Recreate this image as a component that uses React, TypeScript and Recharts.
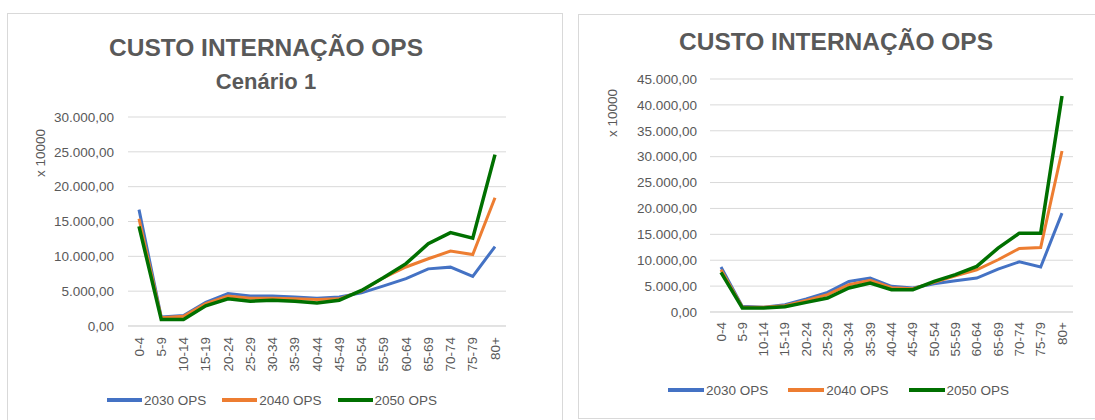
import { LineChart, Line, XAxis, YAxis, CartesianGrid, Legend } from "recharts";

const ageGroups = [
  "0-4", "5-9", "10-14", "15-19", "20-24", "25-29", "30-34", "35-39", "40-44",
  "45-49", "50-54", "55-59", "60-64", "65-69", "70-74", "75-79", "80+"
];

// Cenário 1 (left)
const left2030 = [16700, 1300, 1500, 3400, 4650, 4300, 4300, 4150, 4000, 4150, 4750, 5750, 6800, 8200, 8450, 7130, 11400];
const left2040 = [15400, 1200, 1400, 3200, 4300, 4000, 4000, 3900, 3800, 3900, 5000, 6950, 8470, 9650, 10750, 10250, 18400];
const left2050 = [14300, 950, 950, 2900, 3900, 3550, 3700, 3550, 3300, 3700, 5100, 6950, 8950, 11800, 13400, 12600, 24600];

// right chart
const right2030 = [8680, 1090, 900, 1410, 2500, 3790, 5910, 6560, 4950, 4630, 5460, 6040, 6560, 8290, 9700, 8680, 19090];
const right2040 = [8160, 960, 900, 1220, 2250, 3340, 5270, 6100, 4700, 4500, 5720, 7000, 8160, 10090, 12280, 12470, 31100];
const right2050 = [7650, 770, 770, 1030, 1860, 2700, 4630, 5590, 4300, 4300, 5910, 7200, 8800, 12340, 15230, 15230, 41700];

const leftTicks = [0, 5000, 10000, 15000, 20000, 25000, 30000];
const rightTicks = [0, 5000, 10000, 15000, 20000, 25000, 30000, 35000, 40000, 45000];

const seriesNames = ["2030 OPS", "2040 OPS", "2050 OPS"];
const colors = ["#4472C4", "#ED7D31", "#007000"];

const font = "'Liberation Sans', Arial, sans-serif";
const textGray = "#595959";
const gridGray = "#d9d9d9";

const leftData = ageGroups.map((g, i) => ({ age: g, s2030: left2030[i], s2040: left2040[i], s2050: left2050[i] }));
const rightData = ageGroups.map((g, i) => ({ age: g, s2030: right2030[i], s2040: right2040[i], s2050: right2050[i] }));

function formatBR(v: number) {
  const s = Math.round(v).toString().replace(/\B(?=(\d{3})+(?!\d))/g, ".");
  return s + ",00";
}

function AgeTick(props: any) {
  const { x, y, payload } = props;
  return (
    <text
      x={x}
      y={y}
      transform={`rotate(-90, ${x}, ${y})`}
      textAnchor="end"
      dominantBaseline="central"
      fill={textGray}
      fontSize={13.5}
      fontFamily={font}
    >
      {payload.value}
    </text>
  );
}

function YTitle(props: any) {
  const { cx, cy } = props;
  return (
    <text
      x={cx}
      y={cy}
      transform={`rotate(-90, ${cx}, ${cy})`}
      textAnchor="middle"
      dominantBaseline="central"
      fill={textGray}
      fontSize={13.5}
      fontFamily={font}
    >
      x 10000
    </text>
  );
}

function LegendRow({ padLeft, lineW, gap }: { padLeft: number; lineW: number; gap: number }) {
  return (
    <div style={{ display: "flex", alignItems: "center", height: 30, paddingLeft: padLeft, fontFamily: font, fontSize: 13.5, color: textGray }}>
      {seriesNames.map((n, i) => (
        <div key={n} style={{ display: "flex", alignItems: "center", marginRight: gap }}>
          <svg width={lineW} height={6} style={{ marginRight: 2 }}>
            <line x1={0} y1={3} x2={lineW} y2={3} stroke={colors[i]} strokeWidth={4} />
          </svg>
          <span>{n}</span>
        </div>
      ))}
    </div>
  );
}

function OpsChart(props: {
  data: any[];
  width: number;
  margin: any;
  yWidth: number;
  tickMargin: number;
  xHeight: number;
  xTickMargin: number;
  ticks: number[];
  titleX: number;
  titleY: number;
  legendBottom: number;
  legendPad: number;
  legendLine: number;
  legendGap: number;
}) {
  const p = props;
  return (
    <LineChart width={p.width} height={420} data={p.data} margin={p.margin}>
      <CartesianGrid vertical={false} stroke={gridGray} strokeWidth={1} />
      <XAxis
        dataKey="age"
        interval={0}
        padding={{ left: 11, right: 11 }}
        height={p.xHeight}
        tickLine={false}
        tickMargin={p.xTickMargin}
        axisLine={{ stroke: gridGray }}
        tick={<AgeTick />}
      />
      <YAxis
        domain={[0, p.ticks[p.ticks.length - 1]]}
        ticks={p.ticks}
        width={p.yWidth}
        axisLine={false}
        tickLine={false}
        tickMargin={p.tickMargin}
        tickFormatter={formatBR}
        tick={{ fill: textGray, fontSize: 13.5, fontFamily: font }}
        label={<YTitle cx={p.titleX} cy={p.titleY} />}
      />
      <Legend
        verticalAlign="bottom"
        height={30}
        wrapperStyle={{ left: 0, bottom: p.legendBottom, width: p.width }}
        content={() => <LegendRow padLeft={p.legendPad} lineW={p.legendLine} gap={p.legendGap} />}
      />
      <Line type="linear" dataKey="s2030" name={seriesNames[0]} stroke={colors[0]} strokeWidth={3} dot={false} isAnimationActive={false} />
      <Line type="linear" dataKey="s2040" name={seriesNames[1]} stroke={colors[1]} strokeWidth={3} dot={false} isAnimationActive={false} />
      <Line type="linear" dataKey="s2050" name={seriesNames[2]} stroke={colors[2]} strokeWidth={3.5} dot={false} isAnimationActive={false} />
    </LineChart>
  );
}

const titleStyle: any = {
  position: "absolute",
  fontFamily: font,
  fontWeight: "bold",
  color: textGray,
  textAlign: "center",
  whiteSpace: "nowrap",
  transform: "translate(-50%, -50%)",
  lineHeight: 1
};

export default function App() {
  return (
    <div style={{ position: "absolute", left: 0, top: 0, width: 1095, height: 420, background: "#fff", overflow: "hidden" }}>
      <div style={{ position: "absolute", left: 7, top: 13, width: 556, height: 420, border: `1px solid ${gridGray}`, boxSizing: "border-box" }} />
      <div style={{ position: "absolute", left: 578, top: 14, width: 540, height: 405, border: `1px solid ${gridGray}`, boxSizing: "border-box" }} />

      <div style={{ ...titleStyle, left: 266, top: 48, fontSize: 24.5 }}>CUSTO INTERNAÇÃO OPS</div>
      <div style={{ ...titleStyle, left: 266, top: 82, fontSize: 22 }}>Cenário 1</div>
      <div style={{ ...titleStyle, left: 836, top: 42, fontSize: 24.5 }}>CUSTO INTERNAÇÃO OPS</div>

      <div style={{ position: "absolute", left: 0, top: 0 }}>
        <OpsChart
          data={leftData}
          width={560}
          margin={{ top: 117, right: 54, bottom: 5, left: 0 }}
          yWidth={128}
          tickMargin={8}
          xHeight={59}
          xTickMargin={5}
          ticks={leftTicks}
          titleX={40}
          titleY={153}
          legendBottom={5}
          legendPad={107}
          legendLine={35}
          legendGap={16}
        />
      </div>
      <div style={{ position: "absolute", left: 578, top: 0 }}>
        <OpsChart
          data={rightData}
          width={517}
          margin={{ top: 79, right: 22, bottom: 15, left: 0 }}
          yWidth={132}
          tickMargin={7}
          xHeight={63}
          xTickMargin={4}
          ticks={rightTicks}
          titleX={34}
          titleY={113}
          legendBottom={15}
          legendPad={90}
          legendLine={36}
          legendGap={20}
        />
      </div>
    </div>
  );
}
